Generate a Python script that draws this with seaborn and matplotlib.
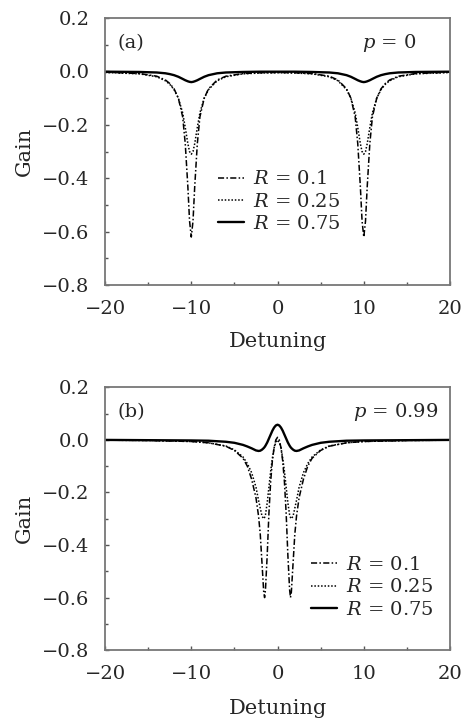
import numpy as np
import pandas as pd
import matplotlib
matplotlib.use("Agg")
import matplotlib.pyplot as plt
import seaborn as sns
from matplotlib.ticker import MultipleLocator, FuncFormatter

# (a) p = 0 : detuning grid and gain curves
det_a = [-20, -16, -14, -13, -12.5, -12, -11.5, -11, -10.7, -10.4, -10.2, -10,
         -9.8, -9.6, -9.3, -9, -8.5, -8, -7, -6, -4, -2, 0,
         2, 4, 6, 7, 8, 8.5, 9, 9.3, 9.6, 9.8, 10,
         10.2, 10.4, 10.7, 11, 11.5, 12, 12.5, 13, 14, 16, 20]
gain_a_r010 = [-0.003, -0.008, -0.018, -0.032, -0.045, -0.065, -0.10, -0.17, -0.27, -0.43, -0.56, -0.62,
               -0.56, -0.43, -0.27, -0.17, -0.10, -0.065, -0.032, -0.018, -0.008, -0.005, -0.004,
               -0.005, -0.008, -0.018, -0.032, -0.065, -0.10, -0.17, -0.27, -0.43, -0.56, -0.62,
               -0.56, -0.43, -0.27, -0.17, -0.10, -0.065, -0.045, -0.032, -0.018, -0.008, -0.003]
gain_a_r025 = [-0.004, -0.009, -0.02, -0.035, -0.048, -0.068, -0.10, -0.155, -0.21, -0.27, -0.30, -0.31,
               -0.30, -0.27, -0.21, -0.155, -0.10, -0.068, -0.035, -0.02, -0.009, -0.006, -0.005,
               -0.006, -0.009, -0.02, -0.035, -0.068, -0.10, -0.155, -0.21, -0.27, -0.30, -0.31,
               -0.30, -0.27, -0.21, -0.155, -0.10, -0.068, -0.048, -0.035, -0.02, -0.009, -0.004]
gain_a_r075 = [-0.001, -0.002, -0.004, -0.007, -0.01, -0.014, -0.02, -0.028, -0.033, -0.037, -0.039, -0.04,
               -0.039, -0.037, -0.033, -0.028, -0.02, -0.014, -0.007, -0.004, -0.002, -0.001, -0.001,
               -0.001, -0.002, -0.004, -0.007, -0.014, -0.02, -0.028, -0.033, -0.037, -0.039, -0.04,
               -0.039, -0.037, -0.033, -0.028, -0.02, -0.014, -0.01, -0.007, -0.004, -0.002, -0.001]

# (b) p = 0.99
det_b = [-20, -15, -10, -8, -6, -5, -4, -3.5, -3, -2.5, -2.2, -2, -1.8, -1.6, -1.5, -1.4,
         -1.2, -1, -0.8, -0.6, -0.4, -0.2, 0,
         0.2, 0.4, 0.6, 0.8, 1, 1.2, 1.4, 1.5, 1.6, 1.8, 2, 2.2, 2.5, 3, 3.5, 4, 5, 6, 8, 10, 15, 20]
gain_b_r010 = [-0.001, -0.002, -0.006, -0.011, -0.024, -0.04, -0.07, -0.10, -0.15, -0.22, -0.29, -0.36,
               -0.47, -0.58, -0.60, -0.57, -0.44, -0.28, -0.16, -0.08, -0.03, 0.0, 0.01,
               0.0, -0.03, -0.08, -0.16, -0.28, -0.44, -0.57, -0.60, -0.58, -0.47, -0.36, -0.29,
               -0.22, -0.15, -0.10, -0.07, -0.04, -0.024, -0.011, -0.006, -0.002, -0.001]
gain_b_r025 = [-0.001, -0.002, -0.006, -0.011, -0.023, -0.038, -0.065, -0.09, -0.125, -0.18, -0.23, -0.26,
               -0.29, -0.30, -0.295, -0.285, -0.24, -0.18, -0.12, -0.07, -0.03, -0.01, 0.0,
               -0.01, -0.03, -0.07, -0.12, -0.18, -0.24, -0.285, -0.295, -0.30, -0.29, -0.26, -0.23,
               -0.18, -0.125, -0.09, -0.065, -0.038, -0.023, -0.011, -0.006, -0.002, -0.001]
gain_b_r075 = [0.0, -0.001, -0.002, -0.003, -0.007, -0.011, -0.019, -0.025, -0.032, -0.04, -0.042, -0.041,
               -0.037, -0.031, -0.027, -0.022, -0.01, 0.005, 0.02, 0.035, 0.047, 0.055, 0.058,
               0.055, 0.047, 0.035, 0.02, 0.005, -0.01, -0.022, -0.027, -0.031, -0.037, -0.041, -0.042,
               -0.04, -0.032, -0.025, -0.019, -0.011, -0.007, -0.003, -0.002, -0.001, 0.0]

r_labels = ["$R$ = 0.1", "$R$ = 0.25", "$R$ = 0.75"]
panel_tags = ["(a)", "(b)"]
p_labels = ["$p$ = 0", "$p$ = 0.99"]

sns.set_style("ticks")
plt.rcParams["font.family"] = ["DejaVu Serif"]
plt.rcParams["mathtext.fontset"] = "dejavuserif"

styles = [(0, (4, 1.5, 1, 1.5)), (0, (1, 1.2)), "-"]
widths = [1.1, 1.1, 1.7]

fig = plt.figure(figsize=(4.71, 7.2), dpi=100)
ax_a = fig.add_axes([0.223, 0.604, 0.7325, 0.371])
ax_b = fig.add_axes([0.223, 0.097, 0.7325, 0.365])

# axes, x, curves, legend anchor, xlabel y, p-label x
panels = [
    (ax_a, det_a, [gain_a_r010, gain_a_r025, gain_a_r075], (0.30, 0.466), -0.175, 0.745),
    (ax_b, det_b, [gain_b_r010, gain_b_r025, gain_b_r075], (0.57, 0.395), -0.185, 0.72),
]

for i, (ax, det, gains, leg_pos, xl_y, p_x) in enumerate(panels):
    for g, lab, ls, lw in zip(gains, r_labels, styles, widths):
        df = pd.DataFrame({"Detuning": det, "Gain": g})
        sns.lineplot(data=df, x="Detuning", y="Gain", ax=ax, color="black",
                     linestyle=ls, linewidth=lw, label=lab)
    ax.set_xlim(-20, 20)
    ax.set_ylim(-0.8, 0.2)
    ax.xaxis.set_major_locator(MultipleLocator(10))
    ax.xaxis.set_minor_locator(MultipleLocator(5))
    ax.yaxis.set_major_locator(MultipleLocator(0.2))
    ax.yaxis.set_minor_locator(MultipleLocator(0.1))
    ax.yaxis.set_major_formatter(FuncFormatter(lambda v, _: f"{v:.1f}".replace("-", "\u2212")))
    ax.xaxis.set_major_formatter(FuncFormatter(lambda v, _: f"{v:.0f}".replace("-", "\u2212")))
    ax.tick_params(which="both", direction="in", top=False, right=False,
                   labelsize=14, color="#555555")
    ax.tick_params(axis="x", which="major", pad=11)
    ax.tick_params(axis="y", which="major", pad=11)
    ax.tick_params(which="major", length=3, width=1)
    ax.tick_params(which="minor", length=2, width=1)
    for sp in ax.spines.values():
        sp.set_visible(True)
        sp.set_color("#777777")
        sp.set_linewidth(1.3)
    ax.set_xlabel("Detuning", fontsize=15)
    ax.set_ylabel("Gain", fontsize=15)
    ax.xaxis.set_label_coords(0.5, xl_y)
    ax.yaxis.set_label_coords(-0.205, 0.5)
    ax.text(0.035, 0.905, panel_tags[i], transform=ax.transAxes, fontsize=14, va="center")
    ax.text(p_x, 0.905, p_labels[i], transform=ax.transAxes, fontsize=14,
            va="center", ha="left")
    ax.legend(loc="upper left", bbox_to_anchor=leg_pos, frameon=False, fontsize=14,
              handlelength=1.3, handletextpad=0.5, labelspacing=0.22, borderpad=0)

fig.savefig("out.png", dpi=100)
